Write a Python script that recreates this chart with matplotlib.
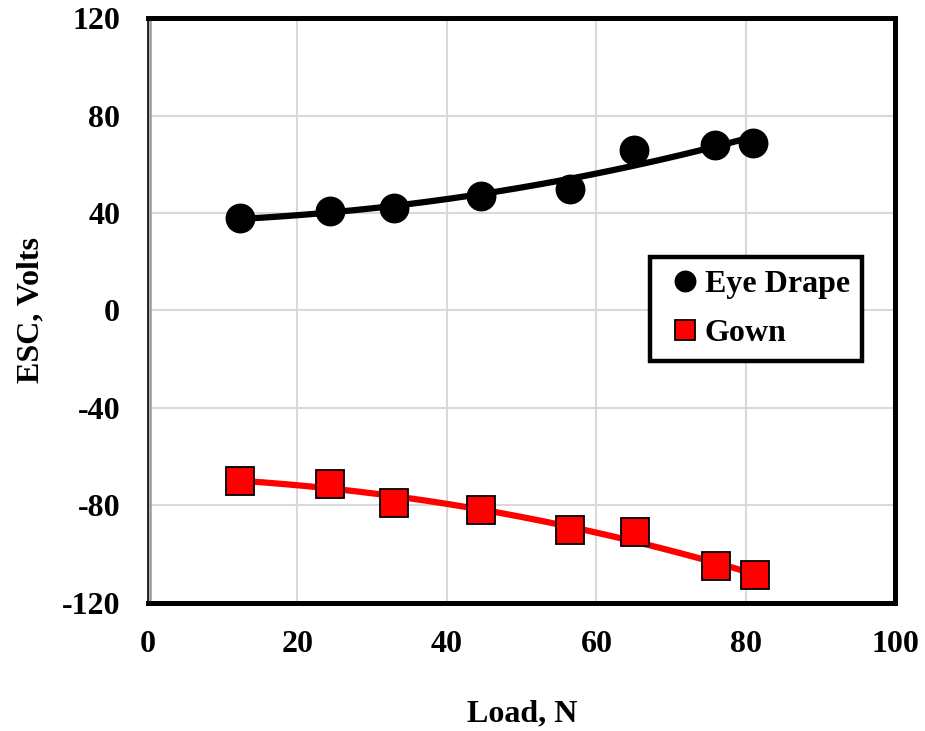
import numpy as np
import matplotlib
matplotlib.use("Agg")
import matplotlib.pyplot as plt

# Load (N) and electrostatic charge (V) for the two fabrics
load = [12.3, 24.3, 32.9, 44.5, 56.4, 65.0, 75.9, 81.0]
eye_drape = [37.9, 41.0, 42.0, 47.2, 49.9, 65.9, 68.0, 68.9]
load_gown = [12.3, 24.3, 32.9, 44.5, 56.4, 65.1, 76.0, 81.2]
gown = [-69.9, -71.1, -79.0, -81.9, -90.0, -90.9, -104.9, -108.8]

x_ticks = [0, 20, 40, 60, 80, 100]
y_ticks = [-120, -80, -40, 0, 40, 80, 120]

plt.rcParams['font.family'] = ['Liberation Serif', 'DejaVu Serif']
plt.rcParams['font.weight'] = 'bold'
plt.rcParams['axes.unicode_minus'] = False
fs = 23

fig = plt.figure(figsize=(9.25, 7.31), dpi=100)
ax = fig.add_axes([0.16, 0.1755, 0.808, 0.7995])

ax.set_xlim(0, 100)
ax.set_ylim(-120, 120)
ax.set_xticks(x_ticks)
ax.set_yticks(y_ticks)
ax.grid(True, color='#d9d9d9', linewidth=1.5)
ax.set_axisbelow(True)
ax.tick_params(length=0, labelsize=fs, pad=20)
for lab in ax.get_xticklabels() + ax.get_yticklabels():
    lab.set_fontweight('bold')

# second order trendlines through each series
for xs, ys, col in [(load, eye_drape, 'black'), (load_gown, gown, 'red')]:
    c = np.polyfit(xs, ys, 2)
    xx = np.linspace(min(xs), max(xs), 200)
    ax.plot(xx, np.polyval(c, xx), color=col, lw=4.5, solid_capstyle='butt', zorder=3)

ax.plot(load, eye_drape, 'o', ms=20.5, color='black', label='Eye Drape', zorder=4)
ax.plot(load_gown, gown, 's', ms=20, mfc='red', mec='black', mew=1.3,
        label='Gown', zorder=4)

for side in ['top', 'right', 'bottom']:
    ax.spines[side].set_linewidth(3.6)
    ax.spines[side].set_color('black')
ax.spines['left'].set_linewidth(1.2)
ax.spines['left'].set_color('black')
ax.axvline(0.22, color='#9a9a9a', lw=1.8, zorder=2)

ax.set_xlabel('Load, N', fontsize=fs, fontweight='bold', labelpad=29)
ax.set_ylabel('ESC, Volts', fontsize=fs, fontweight='bold', labelpad=12)

leg = ax.legend(loc='upper left', bbox_to_anchor=(0.672, 0.5915), borderaxespad=0,
                frameon=True, fancybox=False, handlelength=1.4,
                handletextpad=-0.1, borderpad=0.4, labelspacing=0.62,
                markerscale=0.72, prop={'weight': 'bold', 'size': fs})
leg.get_frame().set_edgecolor('black')
leg.get_frame().set_linewidth(3.2)
leg.get_frame().set_alpha(1)

fig.savefig('out.png', dpi=100)
